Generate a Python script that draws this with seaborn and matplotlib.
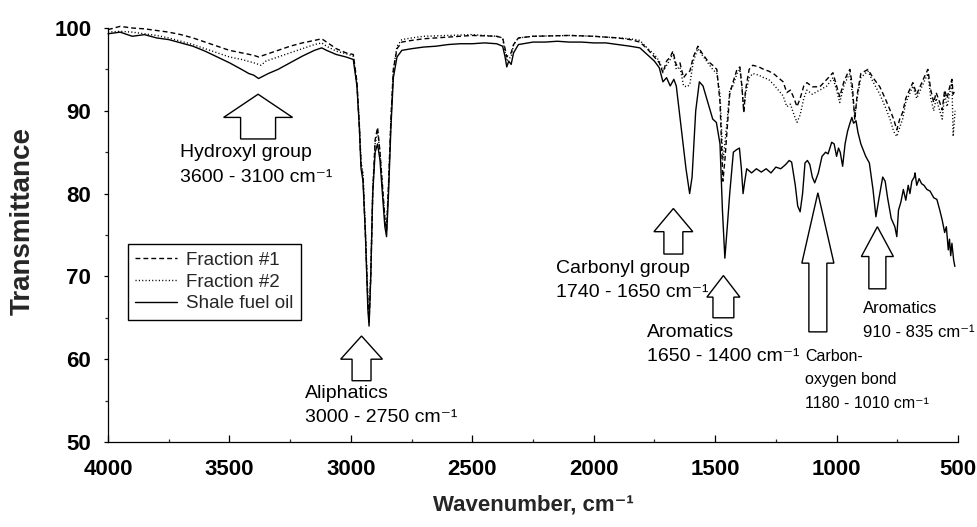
import numpy as np
import pandas as pd
import matplotlib
matplotlib.use("Agg")
import matplotlib.pyplot as plt
from matplotlib.patches import FancyArrow
from matplotlib.lines import Line2D
import seaborn as sns

# ---------------- data ----------------
wn_oil = [4000, 3950, 3900, 3850, 3800, 3750, 3700, 3650, 3600, 3550, 3500, 3450, 3420, 3400,
          3380, 3360, 3340, 3300, 3250, 3200, 3150, 3120, 3100, 3060, 3020, 2990, 2975, 2965,
          2958, 2950, 2940, 2930, 2925, 2918, 2910, 2900, 2890, 2880, 2870, 2860, 2853, 2845,
          2835, 2825, 2810, 2790, 2750, 2700, 2650, 2600, 2550, 2500, 2450, 2400, 2375, 2365,
          2358, 2350, 2340, 2330, 2310, 2250, 2200, 2150, 2100, 2050, 2000, 1950, 1900, 1850,
          1810, 1780, 1750, 1730, 1715, 1700, 1685, 1670, 1660, 1640, 1620, 1605, 1595, 1580,
          1565, 1550, 1530, 1510, 1495, 1480, 1470, 1460, 1450, 1440, 1425, 1412, 1400, 1392,
          1385, 1378, 1370, 1350, 1330, 1310, 1290, 1270, 1250, 1230, 1210, 1195, 1185, 1170,
          1160, 1150, 1140, 1130, 1120, 1110, 1100, 1090, 1075, 1060, 1045, 1035, 1020, 1010,
          1000, 992, 985, 975, 965, 955, 945, 937, 930, 920, 912, 900, 880, 865, 850, 838,
          825, 810, 800, 790, 775, 760, 752, 745, 735, 725, 715, 705, 698, 690, 680, 677,
          670, 660, 650, 640, 628, 615, 600, 587, 575, 565, 555, 548, 540, 535, 530, 525,
          518, 513]
tr_oil = [99.3, 99.5, 99.0, 99.2, 98.8, 98.6, 98.2, 97.8, 97.2, 96.5, 95.8, 95.0, 94.5, 94.3,
          93.9, 94.2, 94.5, 95.0, 95.8, 96.6, 97.3, 97.6, 97.3, 96.8, 96.5, 96.2, 93.0, 88.0,
          83.0, 81.5, 75.0, 66.0, 64.0, 70.0, 80.0, 85.0, 86.0, 84.0, 80.0, 76.0, 74.8, 80.0,
          88.0, 94.0, 96.5, 97.3, 97.5, 97.7, 97.8, 98.0, 98.1, 98.1, 98.2, 98.1, 97.8, 96.5,
          95.3, 96.0, 95.6, 97.0, 98.0, 98.3, 98.3, 98.4, 98.3, 98.3, 98.2, 98.2, 98.0, 97.8,
          97.6, 96.8, 96.0, 95.2, 93.5, 94.0, 93.0, 93.8, 93.0, 88.0, 83.0, 80.0, 82.0, 90.0,
          93.5, 93.0, 91.0, 89.0, 88.6, 86.0, 78.0, 72.2, 76.0, 80.0, 85.0, 85.3, 85.5, 83.0,
          80.0, 81.5, 83.0, 82.5, 83.0, 82.6, 83.0, 82.5, 83.2, 83.0, 83.5, 84.0, 83.8, 81.0,
          78.5, 77.8, 80.0, 83.7, 84.0, 83.5, 82.0, 81.3, 82.5, 84.5, 85.0, 84.8, 86.2, 86.0,
          84.5, 85.5, 85.0, 83.3, 86.0, 87.5, 88.5, 89.2, 88.5, 88.8, 87.4, 86.0, 84.5, 83.7,
          80.5, 77.2, 79.5, 82.0, 81.5, 79.5, 77.0, 76.0, 74.8, 78.0, 79.0, 80.5, 79.2, 81.0,
          80.0, 81.5, 82.0, 82.5, 81.0, 81.8, 81.2, 81.0, 80.5, 80.3, 79.5, 79.3, 78.0, 76.8,
          75.3, 76.0, 73.2, 74.5, 72.5, 74.0, 72.0, 71.2]

wn_f1 = [4000, 3950, 3900, 3850, 3800, 3750, 3700, 3650, 3600, 3550, 3500, 3450, 3400, 3380,
         3350, 3300, 3250, 3200, 3150, 3120, 3100, 3060, 3020, 2990, 2975, 2965, 2958, 2950,
         2940, 2930, 2925, 2918, 2910, 2900, 2890, 2880, 2870, 2860, 2853, 2845, 2835, 2825,
         2810, 2790, 2750, 2700, 2600, 2500, 2400, 2375, 2365, 2358, 2350, 2340, 2330, 2310,
         2250, 2100, 2000, 1900, 1850, 1810, 1780, 1750, 1730, 1715, 1700, 1685, 1674, 1660,
         1645, 1630, 1615, 1604, 1590, 1571, 1555, 1530, 1510, 1493, 1480, 1468, 1460, 1450,
         1440, 1427, 1410, 1398, 1390, 1382, 1375, 1360, 1345, 1320, 1300, 1280, 1260, 1240,
         1220, 1205, 1190, 1175, 1163, 1150, 1135, 1122, 1100, 1069, 1040, 1015, 1000, 987,
         970, 955, 945, 935, 925, 915, 900, 871, 850, 822, 800, 780, 765, 752, 740, 728,
         715, 700, 686, 670, 655, 640, 624, 612, 600, 590, 575, 565, 555, 545, 535, 525,
         520, 512]
tr_f1 = [99.8, 100.2, 100.0, 99.9, 99.7, 99.5, 99.2, 98.8, 98.3, 97.8, 97.3, 97.0, 96.7, 96.5,
         96.8, 97.3, 97.8, 98.2, 98.5, 98.7, 98.3, 97.5, 97.0, 96.8, 93.5, 88.0, 83.5, 82.0,
         75.0, 67.0, 64.5, 70.0, 80.0, 86.5, 88.0, 85.0, 81.0, 77.0, 75.5, 81.0, 89.0, 95.0,
         97.5, 98.3, 98.5, 98.7, 98.9, 99.1, 99.0, 98.8, 97.5, 96.5, 96.8, 97.0, 98.0, 98.8,
         99.0, 99.1, 99.0, 98.8, 98.6, 98.3, 97.5, 96.5, 95.8, 94.6, 96.0, 96.5, 97.2, 95.5,
         95.8, 94.0, 94.6, 94.8, 96.5, 97.8, 97.0, 96.0, 95.5, 95.0, 91.0, 81.5, 84.0, 88.0,
         92.0, 93.4, 95.0, 95.3, 93.0, 89.8, 92.5, 95.0, 95.5, 95.3, 95.0, 94.8, 94.5, 94.0,
         93.5, 92.2, 92.5, 91.5, 90.5, 91.5, 93.0, 93.4, 92.9, 92.9, 93.8, 94.6, 93.0, 91.7,
         93.5, 94.5, 95.0, 93.0, 88.9, 92.0, 94.5, 95.0, 94.0, 92.9, 91.5, 90.1, 89.0, 87.7,
         89.0, 89.8, 91.5, 92.5, 93.4, 92.0, 93.0, 94.0, 95.0, 92.5, 91.0, 92.2, 91.0, 90.1,
         92.5, 91.5, 92.8, 93.8, 92.0, 92.5]

wn_f2 = [4000, 3950, 3900, 3850, 3800, 3750, 3700, 3650, 3600, 3550, 3500, 3450, 3400, 3370,
         3350, 3300, 3250, 3200, 3150, 3120, 3100, 3060, 3020, 2990, 2975, 2965, 2958, 2950,
         2940, 2930, 2925, 2918, 2910, 2900, 2890, 2880, 2870, 2860, 2853, 2845, 2835, 2825,
         2810, 2790, 2750, 2700, 2600, 2500, 2400, 2375, 2365, 2358, 2350, 2340, 2330, 2310,
         2250, 2100, 2000, 1900, 1850, 1810, 1780, 1750, 1730, 1715, 1700, 1685, 1674, 1660,
         1645, 1630, 1615, 1604, 1590, 1571, 1555, 1530, 1510, 1493, 1480, 1468, 1460, 1450,
         1440, 1427, 1410, 1398, 1390, 1382, 1375, 1360, 1345, 1320, 1300, 1280, 1260, 1240,
         1220, 1205, 1190, 1175, 1163, 1150, 1135, 1122, 1100, 1069, 1040, 1015, 1000, 987,
         970, 955, 945, 935, 925, 915, 900, 871, 850, 822, 800, 780, 765, 752, 740, 728,
         715, 700, 686, 670, 655, 640, 624, 612, 600, 590, 575, 565, 555, 545, 535, 525,
         520, 512]
tr_f2 = [99.5, 99.6, 99.5, 99.3, 99.1, 98.8, 98.4, 98.0, 97.5, 97.0, 96.5, 96.2, 95.8, 95.5,
         96.0, 96.5, 97.0, 97.5, 98.0, 98.2, 97.8, 97.2, 96.9, 96.6, 93.3, 88.5, 83.8, 82.5,
         75.5, 67.5, 65.0, 70.5, 80.5, 86.0, 87.5, 85.0, 81.0, 77.0, 75.8, 81.0, 89.0, 95.0,
         97.8, 98.6, 98.8, 99.0, 99.1, 99.2, 99.0, 98.8, 97.0, 96.0, 96.3, 96.5, 98.0, 98.8,
         99.0, 99.1, 99.0, 98.8, 98.7, 98.5, 97.6, 96.8, 96.0, 94.8, 95.5, 96.2, 97.0, 95.0,
         95.3, 93.0, 92.9, 93.2, 96.0, 97.5, 96.8, 95.8, 95.0, 94.5, 92.0, 84.0, 86.0, 89.0,
         92.5, 93.0, 94.5, 95.0, 93.0, 90.0, 92.0, 94.0, 94.5, 94.3, 94.0, 93.8, 93.2, 92.5,
         91.8, 90.5, 90.8, 89.5, 88.6, 89.5, 91.5, 92.5, 92.0, 92.5, 93.0, 94.0, 92.5, 91.0,
         93.0, 94.0, 94.5, 92.0, 89.5, 91.5, 94.0, 94.8, 93.5, 92.0, 90.5, 89.0, 87.5, 86.9,
         88.0, 89.0, 91.0, 92.0, 93.0, 91.5, 92.5, 93.5, 94.5, 91.5, 90.0, 91.5, 90.0, 89.0,
         92.0, 90.5, 92.0, 93.5, 86.9, 90.0]

series_names = ["Fraction #1", "Fraction #2", "Shale fuel oil"]

# annotation arrows: (center wavenumber, bottom T, tip T, head length, head width, shaft width)
arrows = [
    (3382, 86.6, 92.0, 2.8, 284, 144),
    (2956, 57.4, 62.8, 2.8, 172, 78),
    (1672, 72.7, 78.2, 2.8, 160, 78),
    (1466, 65.0, 70.1, 2.6, 136, 86),
    (1077, 63.3, 80.1, 8.5, 132, 74),
    (832, 68.5, 76.0, 3.6, 132, 70),
]
# annotation texts: (left wavenumber, T at line centre, text, fontsize)
labels = [
    (3704, 84.95, "Hydroxyl group", 14),
    (3704, 81.9, "3600 - 3100 cm\u207b\u00b9", 14),
    (3189, 55.9, "Aliphatics", 14),
    (3189, 52.9, "3000 - 2750 cm\u207b\u00b9", 14),
    (2156, 71.0, "Carbonyl group", 14),
    (2156, 68.0, "1740 - 1650 cm\u207b\u00b9", 14),
    (1781, 63.2, "Aromatics", 14),
    (1781, 60.3, "1650 - 1400 cm\u207b\u00b9", 14),
    (1130, 60.3, "Carbon-", 11.5),
    (1130, 57.5, "oxygen bond", 11.5),
    (1130, 54.7, "1180 - 1010 cm\u207b\u00b9", 11.5),
    (892, 66.1, "Aromatics", 12),
    (892, 63.2, "910 - 835 cm\u207b\u00b9", 12),
]

# ---------------- plotting ----------------
sns.set_theme(style="ticks")
plt.rcParams["font.family"] = ["Liberation Sans", "DejaVu Sans"]

fig = plt.figure(figsize=(9.78, 5.27), dpi=100)
ax = fig.add_axes([108 / 978, 1 - 442 / 527, 850 / 978, 414 / 527])

styles = {
    "Fraction #1": dict(linestyle=(0, (3.5, 2.2))),
    "Fraction #2": dict(linestyle=(0, (0.8, 1.6))),
    "Shale fuel oil": dict(linestyle="-"),
}
data = {
    "Fraction #1": (wn_f1, tr_f1),
    "Fraction #2": (wn_f2, tr_f2),
    "Shale fuel oil": (wn_oil, tr_oil),
}
for name in series_names:
    wn, tr = data[name]
    df = pd.DataFrame({"wn": wn, "tr": tr})
    sns.lineplot(data=df, x="wn", y="tr", ax=ax, color="black", lw=1.0,
                 estimator=None, sort=False, clip_on=False, **styles[name])

ax.set_xlim(4000, 500)
ax.set_ylim(50, 100)
ax.set_xticks(np.arange(4000, 499, -500))
ax.set_xticks(np.arange(3750, 500, -500), minor=True)
ax.set_yticks(np.arange(50, 101, 10))
ax.set_yticks(np.arange(55, 100, 10), minor=True)

for s in ["top", "right"]:
    ax.spines[s].set_visible(False)
for s in ["left", "bottom"]:
    ax.spines[s].set_linewidth(0.9)
    ax.spines[s].set_color("black")

ax.tick_params(axis="x", which="major", direction="in", length=5, width=0.9,
               pad=12, labelsize=16, colors="black")
ax.tick_params(axis="x", which="minor", direction="in", length=2.5, width=0.9)
ax.tick_params(axis="y", which="major", direction="out", length=3, width=0.9,
               pad=9, labelsize=16, colors="black")
ax.tick_params(axis="y", which="minor", direction="out", length=2.5, width=0.9)
for lab in ax.get_xticklabels() + ax.get_yticklabels():
    lab.set_fontweight("bold")

ax.set_xlabel("Wavenumber, cm\u207b\u00b9", fontsize=16, fontweight="bold")
ax.set_ylabel("Transmittance", fontsize=20, fontweight="bold")
ax.xaxis.label.set_va("center")
ax.xaxis.set_label_coords(0.5, -0.152)
ax.yaxis.label.set_va("center")
ax.yaxis.set_label_coords(-0.1, 0.534)

for (xc, yb, yt, hl, hw, sw) in arrows:
    ax.add_patch(FancyArrow(xc, yb, 0, yt - yb, width=sw, head_width=hw, head_length=hl,
                            length_includes_head=True, facecolor="white",
                            edgecolor="black", linewidth=1.0, zorder=3))

for (xl, yl, txt, fs) in labels:
    ax.text(xl, yl, txt, ha="left", va="center", fontsize=fs, color="black", zorder=4)

handles = [Line2D([], [], color="black", lw=1.0, **styles[n]) for n in series_names]
leg = ax.legend(handles, series_names, loc="upper left", bbox_to_anchor=(0.0235, 0.478),
                borderaxespad=0, fontsize=13.5, frameon=True, fancybox=False,
                handlelength=2.2, handletextpad=0.5, labelspacing=0.25, borderpad=0.4)
leg.get_frame().set_edgecolor("black")
leg.get_frame().set_linewidth(1.0)
leg.get_frame().set_alpha(1)

fig.savefig("out.png", dpi=100)
